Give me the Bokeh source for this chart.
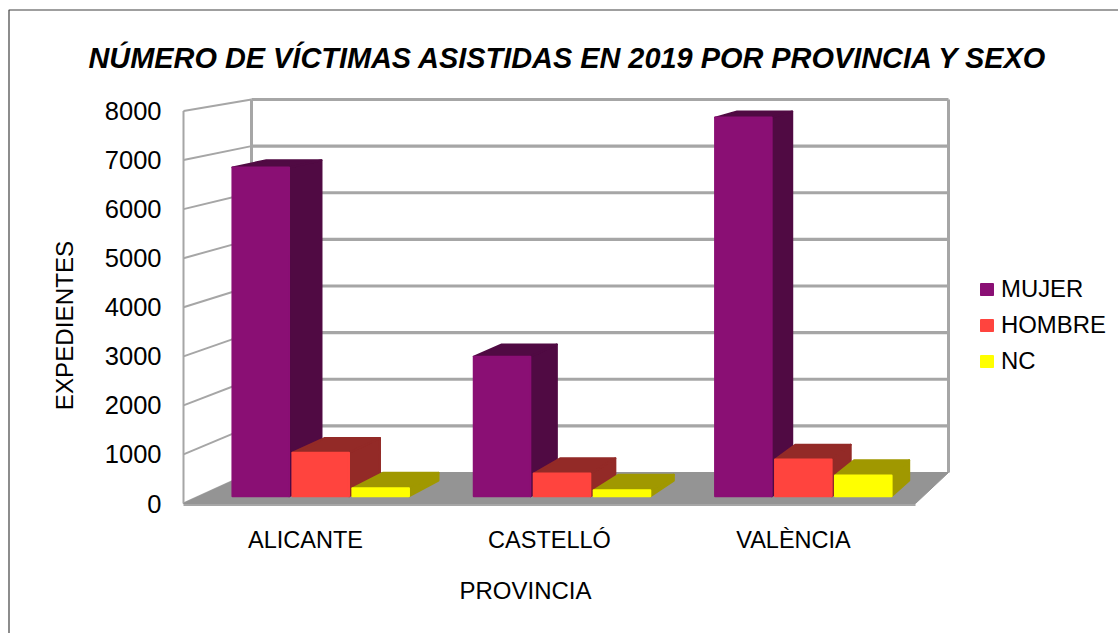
from bokeh.plotting import figure
from bokeh.models import (FixedTicker, Label, Legend, LegendItem, LinearAxis,
                          PolyAnnotation, Range1d)
from bokeh.embed import file_html
from bokeh.resources import INLINE

# ---------- data ----------
categories = ["ALICANTE", "CASTELLÓ", "VALÈNCIA"]
mujer = [6780, 2880, 7810]
hombre = [900, 470, 760]
nc = [165, 125, 430]
y_ticks = [0, 1000, 2000, 3000, 4000, 5000, 6000, 7000, 8000]
title_text = "NÚMERO DE VÍCTIMAS ASISTIDAS EN 2019 POR PROVINCIA Y SEXO"
x_title = "PROVINCIA"
y_title = "EXPEDIENTES"

series = [
    ("MUJER", mujer, "#8A0F74", "#500A43"),
    ("HOMBRE", hombre, "#FF443E", "#932A27"),
    ("NC", nc, "#FFFF00", "#A09800"),
]

# ---------- layout: pixels of the page to data units ----------
W, H = 1118, 633
PX_X0, PX_PER_CAT = 183.0, 244.0     # front floor edge, one category width
PX_Y0, PX_PER_VAL = 503.0, 0.04906   # front wall zero, pixels per unit


def ux(px):
    return (px - PX_X0) / PX_PER_CAT


def uy(px):
    return (PX_Y0 - px) / PX_PER_VAL


# back plane expressed in front-plane units
BX0, BXS = ux(251), (948 - 251) / (3 * PX_PER_CAT)
BY0, BYS = uy(472), (472 - 99) / (PX_Y0 - 110.5)


def proj(u, v, d):
    """Perspective-like projection of (category pos, value, depth) on the data plane."""
    return (u * (1 - d) + d * (BX0 + BXS * u), v * (1 - d) + d * (BY0 + BYS * v))


def poly(points):
    pts = [proj(*q) for q in points]
    return [a for a, _ in pts], [b for _, b in pts]


p = figure(width=W, height=H, output_backend="svg", toolbar_location=None,
           x_range=Range1d(ux(0), ux(W)), y_range=Range1d(uy(H), uy(0)),
           x_axis_location=None, y_axis_location=None,
           min_border=0, outline_line_color=None,
           background_fill_color="white", border_fill_color="white")
p.grid.visible = False

FONT = "Liberation Sans"
NCAT = len(categories)
GRID = "#A6A6A6"

# walls
for v in y_ticks:
    xs, ys = poly([(0, v, 0), (0, v, 1), (NCAT, v, 1)])
    p.line(xs[:2], ys[:2], line_color=GRID, line_width=2)
    if v > 0:
        p.line(xs[1:], ys[1:], line_color=GRID, line_width=3.2)
for u_at, depth, lw in ((0, 0, 2), (0, 1, 3), (NCAT, 1, 3)):
    xs, ys = poly([(u_at, 0, depth), (u_at, y_ticks[-1], depth)])
    p.line(xs, ys, line_color=GRID, line_width=lw)

# floor
xs, ys = poly([(0, 0, 0), (NCAT, 0, 0), (NCAT, 0, 1), (0, 0, 1)])
p.patch(xs, ys, fill_color="#949494", line_color="#949494", line_width=1)
xs, ys = poly([(0, 0, 0), (NCAT, 0, 0)])
p.line(xs, [y - 1.5 / PX_PER_VAL for y in ys], line_color=GRID, line_width=2)

# bars
D1, D2 = 0.23, 0.74
BAR, STEP, START = 0.2345, 0.2485, 0.138
items = []
for s, (name, vals, front, dark) in enumerate(series):
    dx, dy, fx, fy = [], [], [], []
    for i, v in enumerate(vals):
        a = i + START + s * STEP
        b = a + BAR
        xs, ys = poly([(b, 0, D1), (b, 0, D2), (b, v, D2), (b, v, D1)])
        dx.append(xs); dy.append(ys)
        xs, ys = poly([(a, v, D1), (b, v, D1), (b, v, D2), (a, v, D2)])
        dx.append(xs); dy.append(ys)
        xs, ys = poly([(a, 0, D1), (b, 0, D1), (b, v, D1), (a, v, D1)])
        fx.append(xs); fy.append(ys)
    p.patches(dx, dy, fill_color=dark, line_color=dark, line_width=2, line_join="round")
    r = p.patches(fx, fy, fill_color=front, line_color=front, line_width=2, line_join="round")
    items.append(LegendItem(label=name, renderers=[r]))

# axes, placed inside the frame at their own positions
ya = LinearAxis(fixed_location=ux(178), ticker=FixedTicker(ticks=y_ticks),
                axis_line_color=None, major_tick_line_color=None, minor_tick_line_color=None,
                major_label_standoff=11, major_label_text_font=FONT,
                major_label_text_font_size="25.5px", major_label_text_color="black")
p.add_layout(ya, "left")
xa = LinearAxis(fixed_location=uy(508), ticker=FixedTicker(ticks=[i + 0.5 for i in range(NCAT)]),
                major_label_overrides={i + 0.5: c for i, c in enumerate(categories)},
                axis_line_color=None, major_tick_line_color=None, minor_tick_line_color=None,
                major_label_standoff=12, major_label_text_font=FONT,
                major_label_text_font_size="23.5px", major_label_text_color="black")
p.add_layout(xa, "below")

# legend
leg = Legend(items=items, location=(979, 258), orientation="vertical",
             background_fill_alpha=0, border_line_color=None, margin=0, padding=0,
             glyph_width=15, glyph_height=14, label_standoff=7, spacing=8,
             label_height=27, label_text_font=FONT, label_text_font_size="23.9px",
             label_text_color="black", label_text_baseline="middle")
p.add_layout(leg, "center")

# texts
p.add_layout(Label(x=ux(568), y=uy(57.5), text=title_text, text_font=FONT, text_font_size="28.9px",
                   text_font_style="bold italic", text_color="black", text_align="center",
                   text_baseline="middle"))
p.add_layout(Label(x=ux(525), y=uy(589.5), text=x_title, text_font=FONT, text_font_size="24px",
                   text_color="black", text_align="center", text_baseline="middle"))
p.add_layout(Label(x=ux(64), y=uy(325), text=y_title, text_font=FONT, text_font_size="24.2px",
                   text_color="black", text_align="center", text_baseline="middle", angle=90,
                   angle_units="deg"))

# chart-area border (only left and top fall inside the page)
p.add_layout(PolyAnnotation(xs=[ux(8.5), ux(8.5), ux(1400), ux(1400)],
                            ys=[uy(1000), uy(9.5), uy(9.5), uy(1000)],
                            fill_alpha=0, line_color="#404040", line_alpha=1, line_width=1.2))

open("out.html", "w").write(file_html(p, INLINE))
